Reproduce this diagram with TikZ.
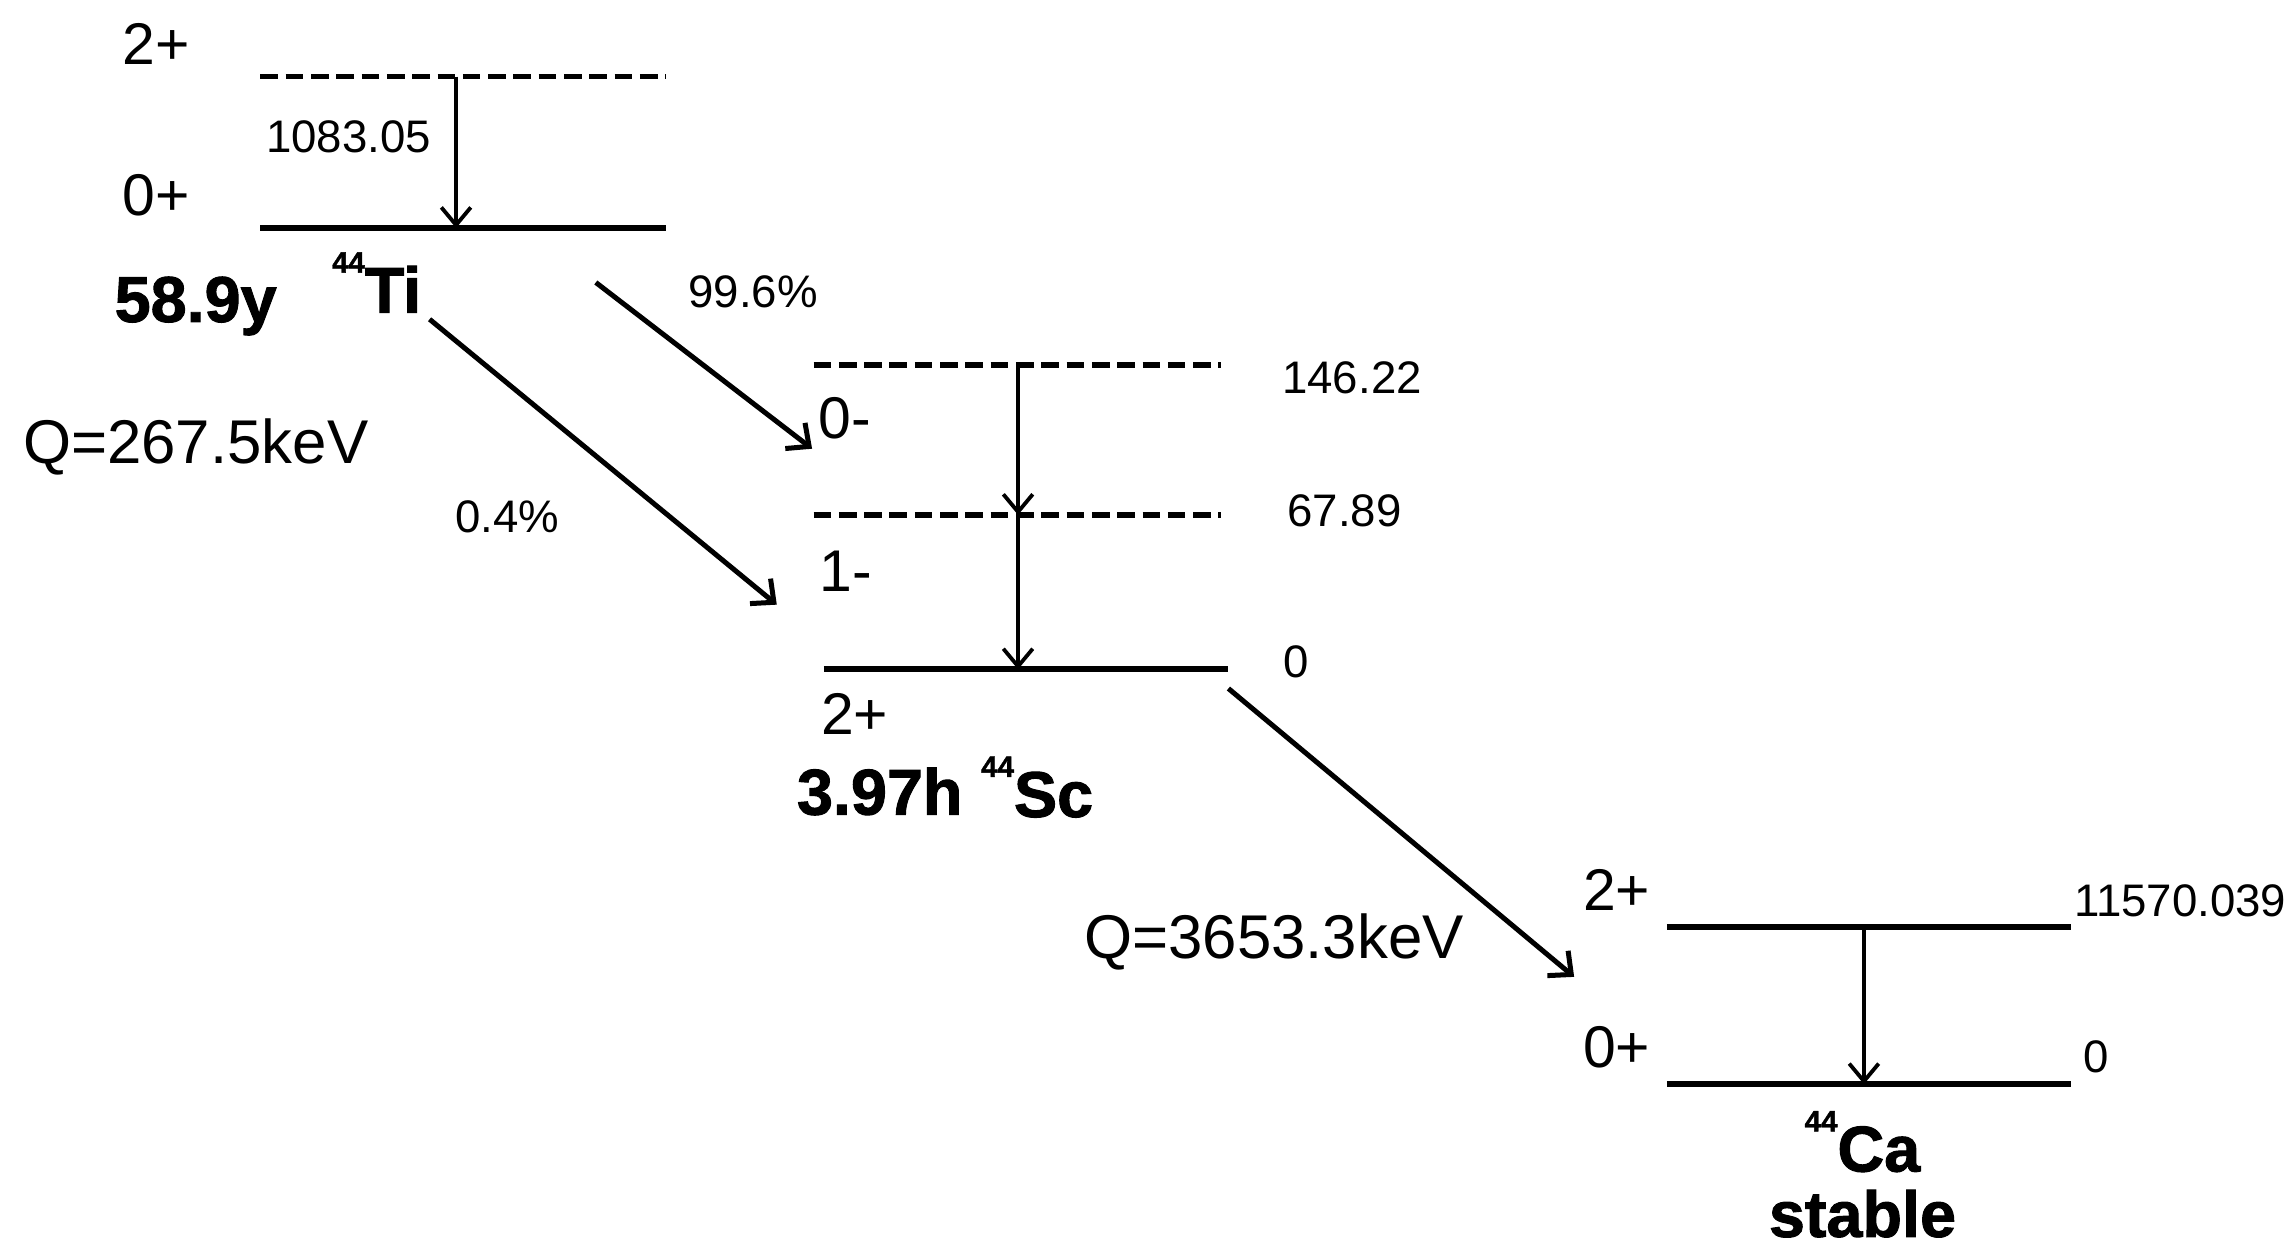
\documentclass[tikz,border=0pt]{standalone}
\usepackage{fontspec}
\setmainfont{Liberation Sans}
\newfontfamily\nucfont[RawFeature={embolden=1.5}]{Liberation Sans Bold}
\usetikzlibrary{arrows.meta}
\tikzset{
  lvl/.style={line width=2pt},
  dlvl/.style={line width=2pt, dash pattern=on 6pt off 2.6pt},
  gam/.style={line width=1.3pt, -{Straight Barb[length=6pt,width=10pt,line width=1.3pt]}},
  beta/.style={line width=1.7pt, -{Straight Barb[length=6pt,width=11pt,line width=1.7pt]}},
  spin/.style={inner sep=0pt, font=\fontsize{20}{22}\selectfont},
  num/.style={inner sep=0pt, font=\fontsize{15.5}{18}\selectfont},
  qval/.style={inner sep=0pt, font=\fontsize{21}{24}\selectfont},
  nuc/.style={inner sep=0pt, font=\nucfont\fontsize{22}{24}\selectfont, align=center},
}
\newcommand{\isosup}[1]{\raisebox{0.62em}{\fontsize{10}{10}\selectfont #1}}
\begin{document}
\begin{tikzpicture}[x=0.5pt,y=-0.5pt]
\useasboundingbox (0,0) rectangle (1560,848);
% Ti levels
\coordinate (ti2l) at (177,52); \coordinate (ti2r) at (453,52);
\coordinate (ti0l) at (177,155); \coordinate (ti0r) at (453,155);
\coordinate (ti2g) at (310,52); \coordinate (ti0g) at (310,155);
\draw[dlvl] (ti2l) -- (ti2r);
\draw[lvl] (ti0l) -- (ti0r);
\draw[gam] (ti2g) -- (ti0g);
\node[spin] (tis2) at (106,30) {2+};
\node[spin] (tis0) at (106,133) {0+};
\node[num] (tig) at (237,93) {1083.05};
\node[nuc] (tihl) at (133,208) {58.9y};
\node[nuc] (tiname) at (256,192) {\isosup{44}Ti};
\node[qval] (tiq) at (133,304) {Q=267.5keV};
% Sc levels
\coordinate (sc0ml) at (553,248); \coordinate (sc0mr) at (830,248);
\coordinate (sc1ml) at (553,350); \coordinate (sc1mr) at (830,350);
\coordinate (sc2pl) at (560,455); \coordinate (sc2pr) at (835,455);
\coordinate (scg0) at (692,248); \coordinate (scg1) at (692,350); \coordinate (scg2) at (692,455);
\draw[dlvl] (sc0ml) -- (sc0mr);
\draw[dlvl] (sc1ml) -- (sc1mr);
\draw[lvl] (sc2pl) -- (sc2pr);
\draw[gam] (scg0) -- (scg1);
\draw[gam] (scg1) -- (scg2);
\node[num] (sce0) at (919,257) {146.22};
\node[spin] (scs0) at (574,284) {0-};
\node[num] (sce1) at (914,347) {67.89};
\node[spin] (scs1) at (575,388) {1-};
\node[num] (sce2) at (881,450) {0};
\node[spin] (scs2) at (581,485) {2+};
\node[nuc] (schl) at (598,538) {3.97h};
\node[nuc] (scname) at (705,535) {\isosup{44}Sc};
% beta arrows Ti -> Sc
\coordinate (b1s) at (405,192); \coordinate (b1e) at (552,305);
\coordinate (b2s) at (292,217); \coordinate (b2e) at (528,411);
\draw[beta] (b1s) -- (b1e);
\draw[beta] (b2s) -- (b2e);
\node[num] (br1) at (512,198) {99.6\%};
\node[num] (br2) at (345,351) {0.4\%};
% Sc -> Ca
\coordinate (b3s) at (835,468); \coordinate (b3e) at (1070,664);
\draw[beta] (b3s) -- (b3e);
\node[qval] (scq) at (866,640) {Q=3653.3keV};
% Ca levels
\coordinate (ca2l) at (1133,630); \coordinate (ca2r) at (1408,630);
\coordinate (ca0l) at (1133,737); \coordinate (ca0r) at (1408,737);
\coordinate (cag2) at (1267,630); \coordinate (cag0) at (1267,737);
\draw[lvl] (ca2l) -- (ca2r);
\draw[lvl] (ca0l) -- (ca0r);
\draw[gam] (cag2) -- (cag0);
\node[spin] (cas2) at (1099,605) {2+};
\node[num] (cae2) at (1482,612) {11570.039};
\node[spin] (cas0) at (1099,712) {0+};
\node[num] (cae0) at (1425,718) {0};
\node[nuc] (caname) at (1266,776) {\isosup{44}Ca};
\node[nuc] (castable) at (1266,825) {stable};
\end{tikzpicture}
\end{document}
